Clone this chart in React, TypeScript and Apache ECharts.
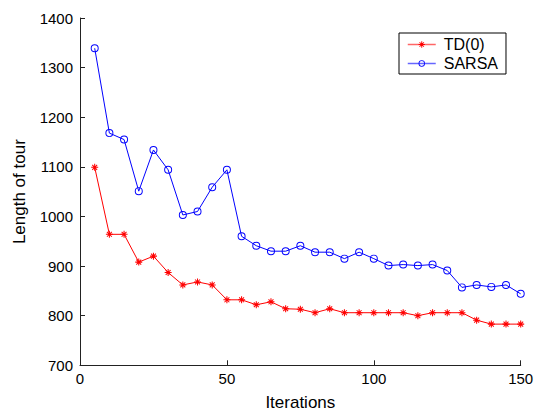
import React, { useEffect, useRef } from "react";
import * as echarts from "echarts";

const iterations = [5, 10, 15, 20, 25, 30, 35, 40, 45, 50, 55, 60, 65, 70, 75, 80, 85, 90, 95, 100, 105, 110, 115, 120, 125, 130, 135, 140, 145, 150];
const tdValues = [1099, 964, 964, 908, 920, 887, 862, 868, 862, 832, 832, 822, 828, 814, 813, 806, 814, 806, 806, 806, 806, 806, 800, 806, 806, 806, 791, 783, 783, 783];
const sarsaValues = [1339, 1168, 1155, 1051, 1134, 1094, 1003, 1010, 1059, 1094, 960, 941, 930, 930, 941, 928, 928, 915, 928, 915, 901, 903, 901, 903, 891, 857, 862, 858, 862, 844];
const seriesNames = ["TD(0)", "SARSA"];
const xAxisName = "Iterations";
const yAxisName = "Length of tour";

const FONT = "'Liberation Sans', Arial, Helvetica, sans-serif";
const STAR =
  "path://M-0.15,-1 L0.15,-1 L0.15,1 L-0.15,1 Z M-1,-0.15 L1,-0.15 L1,0.15 L-1,0.15 Z M-0.8,-0.6 L-0.6,-0.8 L0.8,0.6 L0.6,0.8 Z M0.6,-0.8 L0.8,-0.6 L-0.6,0.8 L-0.8,0.6 Z";
const RING =
  "path://M0,-1 A1,1 0 1,1 0,1 A1,1 0 1,1 0,-1 Z M0,-0.76 A0.76,0.76 0 1,0 0,0.76 A0.76,0.76 0 1,0 0,-0.76 Z";

export default function App() {
  const ref = useRef<HTMLDivElement>(null);
  useEffect(() => {
    if (!ref.current) return;
    const chart = echarts.init(ref.current, null, { renderer: "svg" });
    const axisColor = "#222";
    chart.setOption({
      animation: false,
      backgroundColor: "#fff",
      textStyle: { fontFamily: FONT },
      grid: { left: 80, right: 15.3, top: 18, bottom: 46.7, containLabel: false, outerBoundsMode: "none" },
      legend: {
        orient: "vertical",
        left: 399,
        top: 33,
        padding: [3, 8, 2, 8],
        itemGap: 2,
        itemWidth: 28,
        itemHeight: 8,
        borderColor: "#000",
        borderWidth: 1,
        backgroundColor: "#fff",
        textStyle: { fontFamily: FONT, fontSize: 16, color: "#000", lineHeight: 17, padding: [0, 0, 0, 3] },
        lineStyle: { opacity: 0.6, width: 1.5 },
        data: seriesNames,
      },
      xAxis: {
        type: "value",
        min: 0,
        max: 150,
        interval: 50,
        name: xAxisName,
        nameLocation: "middle",
        nameGap: 29,
        nameTextStyle: { fontFamily: FONT, fontSize: 17, color: "#000" },
        axisLine: { show: true, lineStyle: { color: axisColor, width: 1 } },
        axisTick: { show: true, inside: true, length: 5, lineStyle: { color: axisColor } },
        axisLabel: { fontFamily: FONT, fontSize: 15, color: "#000", margin: 6, formatter: (v: number) => String(v) },
        splitLine: { show: false },
      },
      yAxis: {
        type: "value",
        min: 700,
        max: 1400,
        interval: 100,
        name: yAxisName,
        nameLocation: "middle",
        nameGap: 52,
        nameTextStyle: { fontFamily: FONT, fontSize: 17, color: "#000" },
        axisLine: { show: true, lineStyle: { color: axisColor, width: 1 } },
        axisTick: { show: true, inside: true, length: 5, lineStyle: { color: axisColor } },
        axisLabel: { fontFamily: FONT, fontSize: 15, color: "#000", margin: 7, formatter: (v: number) => String(v) },
        splitLine: { show: false },
      },
      series: [
        {
          name: seriesNames[0],
          type: "line",
          data: iterations.map((x, i) => [x, tdValues[i]]),
          symbol: STAR,
          symbolSize: 7,
          color: "#ff0000",
          itemStyle: { color: "#ff0000", borderWidth: 0 },
          lineStyle: { color: "#ff0000", width: 1 },
        },
        {
          name: seriesNames[1],
          type: "line",
          data: iterations.map((x, i) => [x, sarsaValues[i]]),
          symbol: RING,
          symbolSize: 8,
          color: "#0000ff",
          itemStyle: { color: "#0000ff", borderWidth: 0 },
          lineStyle: { color: "#0000ff", width: 1 },
        },
      ],
    });
    return () => chart.dispose();
  }, []);
  return <div ref={ref} style={{ position: "fixed", left: 0, top: 0, width: 536, height: 412 }} />;
}
